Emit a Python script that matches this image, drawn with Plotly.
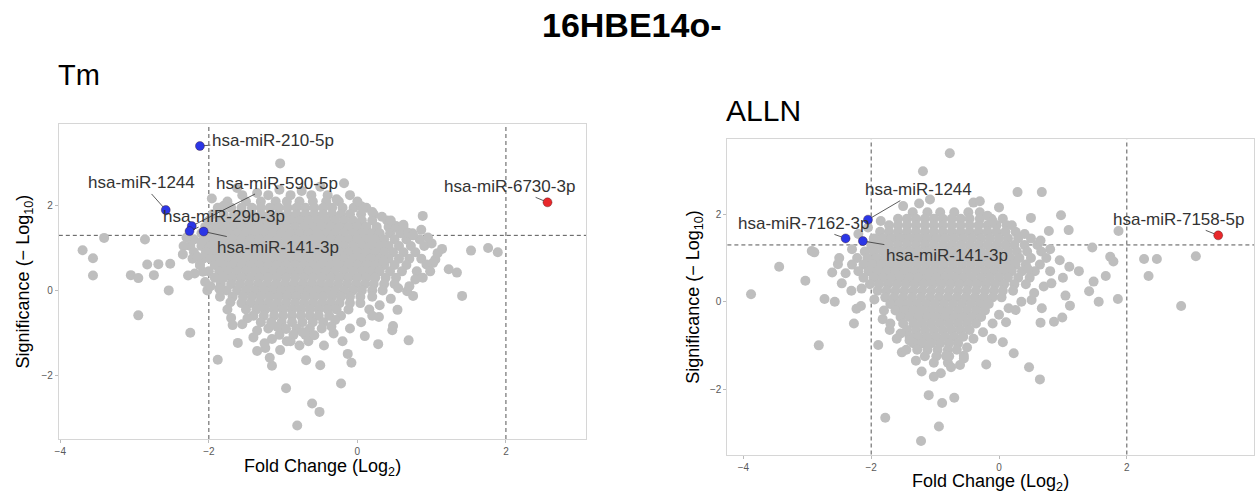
import plotly.graph_objects as go

# ---------------- Tm panel data ----------------
TM_OUT_X = [-1.04, -0.18, -0.10, -1.96, 0.05, 0.33, 0.88, 0.51, 0.86, -3.41, -2.86, -3.70, -3.56, -3.56, -3.05,
            -2.95, -2.83, -2.68, -2.74, -2.52, -2.54, -2.95, -2.25, -1.88, -0.96, -0.81, -0.61, -0.51, -0.22,
            -1.15, -1.18, -0.69, -0.50, -0.08, -0.13, -1.35, -1.24, -1.61, -1.40, -1.04, 0.69, 0.28, 0.10, 0.47,
            0.48, 0.54, 0.29, 0.16, 1.41, 1.34, 1.23, 1.53, 1.76, 1.89, 1.14, 1.05, 1.02, 0.93, 0.75, 0.67, 0.78,
            0.52, 0.68, 1.00, -0.32, -0.30, -0.58, -0.74, -0.96, -1.08, -1.68, -1.48, -1.70, -1.71, -1.86, -2.05,
            -2.02, -2.08, -2.28, -2.34, -2.15, -2.19]
TM_OUT_Y = [3.00, 2.53, 2.25, 2.17, 1.99, 1.74, 1.76, 1.48, 1.43, 1.24, 1.20, 0.95, 0.76, 0.35, 0.36,
            0.29, 0.61, 0.62, 0.36, 0.63, 0.00, -0.59, -1.00, -1.64, -2.31, -3.19, -2.67, -2.87, -2.20,
            -1.78, -1.59, -1.65, -1.77, -1.71, -1.50, -1.43, -1.36, -1.24, -1.11, -1.41, -1.18, -1.27, -1.08, -0.94,
            -0.84, -0.46, -0.63, -0.45, -0.13, 0.42, 0.50, 0.94, 1.00, 0.90, 0.98, 0.73, 0.65, 0.61, -0.13, -0.02, 0.26,
            1.52, 1.36, 1.11, -1.02, -0.70, -1.06, -0.98, -0.91, -0.86, -0.82, -0.66, -0.65, -0.28, 0.04, 0.20,
            0.00, 0.44, 0.35, 1.05, 0.79, 0.40]

TM_EDGE_X = [-1.62, -1.35, -1.05, -0.75, -0.50, -0.28, 0.00, 0.20, 0.45, 0.62, 0.75, 0.95, 1.08, 0.98, 0.88,
             0.70, 0.55, 0.45, 0.30, 0.20, 0.05, -0.10, -0.20, -0.45, -0.78, -1.15, -1.35, -1.55, -1.75, -1.85,
             -1.98, -2.12, -2.35, -2.30, -2.10, -1.80, -0.35, 0.35, -1.25, -0.95]
TM_EDGE_Y = [2.42, 2.30, 2.38, 2.35, 2.45, 2.15, 2.10, 1.85, 1.65, 1.55, 1.30, 1.25, 0.88, 0.45, 0.30,
             0.10, 0.05, -0.20, -0.35, -0.60, -0.75, -0.90, -1.20, -1.30, -1.30, -1.15, -0.95, -0.80, -0.45, -0.15,
             0.10, 0.60, 0.85, 1.25, 1.15, 2.00, -0.85, 0.70, -1.25, -1.20]

TM_ROW_Y = [2.25, 2.1, 1.95, 1.8, 1.65, 1.5, 1.35, 1.2, 1.05, 0.9, 0.75, 0.6, 0.45, 0.3, 0.15, 0.0,
            -0.15, -0.3, -0.45, -0.6, -0.75, -0.9, -1.05, -1.2]
TM_ROW_X = [
    [-1.55, -1.2, -0.9, -0.62, -0.4],
    [-1.75, -1.5, -1.3, -1.1, -0.95, -0.78, -0.6, -0.42, -0.25],
    [-1.88, -1.7, -1.56, -1.42, -1.3, -1.18, -1.06, -0.94, -0.82, -0.7, -0.58, -0.46, -0.34, -0.2, -0.05, 0.12],
    [-1.95, -1.8, -1.66, -1.54, -1.42, -1.3, -1.18, -1.06, -0.94, -0.82, -0.7, -0.58, -0.46, -0.34, -0.22, -0.1, 0.05, 0.22],
    [-2.0, -1.86, -1.74, -1.62, -1.5, -1.38, -1.26, -1.14, -1.02, -0.9, -0.78, -0.66, -0.54, -0.42, -0.3, -0.18, -0.06, 0.06, 0.2, 0.4],
    [-2.05, -1.92, -1.8, -1.68, -1.56, -1.44, -1.32, -1.2, -1.08, -0.96, -0.84, -0.72, -0.6, -0.48, -0.36, -0.24, -0.12, 0.0, 0.12, 0.26, 0.42, 0.62],
    [-2.1, -1.98, -1.86, -1.74, -1.62, -1.5, -1.38, -1.26, -1.14, -1.02, -0.9, -0.78, -0.66, -0.54, -0.42, -0.3, -0.18, -0.06, 0.06, 0.18, 0.3, 0.44, 0.58, 0.74],
    [-2.2, -2.04, -1.92, -1.8, -1.68, -1.56, -1.44, -1.32, -1.2, -1.08, -0.96, -0.84, -0.72, -0.6, -0.48, -0.36, -0.24, -0.12, 0.0, 0.12, 0.24, 0.36, 0.5, 0.66, 0.84],
    [-2.25, -2.1, -1.98, -1.86, -1.74, -1.62, -1.5, -1.38, -1.26, -1.14, -1.02, -0.9, -0.78, -0.66, -0.54, -0.42, -0.3, -0.18, -0.06, 0.06, 0.18, 0.3, 0.42, 0.56, 0.72, 0.9],
    [-2.2, -2.04, -1.92, -1.8, -1.68, -1.56, -1.44, -1.32, -1.2, -1.08, -0.96, -0.84, -0.72, -0.6, -0.48, -0.36, -0.24, -0.12, 0.0, 0.12, 0.24, 0.36, 0.48, 0.62, 0.78],
    [-2.22, -2.08, -1.98, -1.86, -1.74, -1.62, -1.5, -1.38, -1.26, -1.14, -1.02, -0.9, -0.78, -0.66, -0.54, -0.42, -0.3, -0.18, -0.06, 0.06, 0.18, 0.3, 0.42, 0.56, 0.7, 0.86],
    [-2.12, -1.92, -1.8, -1.68, -1.56, -1.44, -1.32, -1.2, -1.08, -0.96, -0.84, -0.72, -0.6, -0.48, -0.36, -0.24, -0.12, 0.0, 0.12, 0.24, 0.36, 0.5, 0.66],
    [-2.0, -1.86, -1.74, -1.62, -1.5, -1.38, -1.26, -1.14, -1.02, -0.9, -0.78, -0.66, -0.54, -0.42, -0.3, -0.18, -0.06, 0.06, 0.18, 0.3, 0.44, 0.6, 0.8],
    [-1.92, -1.8, -1.68, -1.56, -1.44, -1.32, -1.2, -1.08, -0.96, -0.84, -0.72, -0.6, -0.48, -0.36, -0.24, -0.12, 0.0, 0.12, 0.24, 0.38, 0.52],
    [-1.84, -1.7, -1.58, -1.46, -1.34, -1.22, -1.1, -0.98, -0.86, -0.74, -0.62, -0.5, -0.38, -0.26, -0.14, -0.02, 0.1, 0.22, 0.36, 0.5],
    [-1.76, -1.62, -1.5, -1.38, -1.26, -1.14, -1.02, -0.9, -0.78, -0.66, -0.54, -0.42, -0.3, -0.18, -0.06, 0.06, 0.2, 0.34],
    [-1.68, -1.54, -1.42, -1.3, -1.18, -1.06, -0.94, -0.82, -0.7, -0.58, -0.46, -0.34, -0.22, -0.1, 0.04, 0.2],
    [-1.56, -1.44, -1.32, -1.2, -1.08, -0.96, -0.84, -0.72, -0.6, -0.48, -0.36, -0.24, -0.1, 0.04],
    [-1.5, -1.36, -1.24, -1.12, -1.0, -0.88, -0.76, -0.64, -0.52, -0.4, -0.28, -0.12],
    [-1.4, -1.26, -1.12, -1.0, -0.88, -0.76, -0.64, -0.52, -0.38, -0.22],
    [-1.3, -1.16, -1.02, -0.88, -0.74, -0.6, -0.46],
    [-1.2, -1.0, -0.82, -0.64, -0.48],
    [-1.05, -0.86, -0.7],
    [-0.9, -0.66],
]

TM_DOWN_NAMES = ["hsa-miR-210-5p", "hsa-miR-1244", "hsa-miR-590-5p", "hsa-miR-29b-3p", "hsa-miR-141-3p"]
TM_DOWN_X = [-2.12, -2.58, -2.23, -2.26, -2.07]
TM_DOWN_Y = [3.41, 1.90, 1.52, 1.40, 1.39]
TM_UP_NAMES = ["hsa-miR-6730-3p"]
TM_UP_X = [2.56]
TM_UP_Y = [2.08]

# ---------------- ALLN panel data ----------------
AL_OUT_X = [-0.77, -1.19, 0.29, 0.67, -0.40, -1.08, -1.50, 0.00, -0.18, 0.50, 0.97, 1.09, 1.87, 0.78, 1.46,
            1.74, 1.79, 2.27, 2.47, 3.08, 2.34, 2.85, 1.86, 1.56, 1.41, 1.67, 1.48, -2.93, -2.89, -3.44, -3.03,
            -3.88, -2.73, -2.57, -2.61, -2.52, -2.46, -2.31, -2.82, -2.27, -2.23, -2.16, -1.89, -1.82, -1.78,
            -1.22, -0.94, -1.10, -0.89, -0.70, -0.91, -1.02, -1.21, -0.20, 0.47, 0.64, 0.23, -0.11, 0.06, 0.11,
            0.26, 0.65, 0.86, 0.99, 0.67, 1.11, 0.51, 1.04, 0.82, -0.55, -0.61, -0.83, -1.52, -1.40, -1.54, -1.71]
AL_OUT_Y = [3.40, 2.99, 2.51, 2.51, 2.27, 2.34, 2.19, 2.16, 1.97, 1.92, 1.98, 1.64, 1.62, 1.62, 1.24,
            1.03, 0.92, 0.98, 0.98, 1.04, 0.59, -0.10, 0.06, 0.00, 0.24, 0.59, 0.46, 1.16, 1.13, 0.80, 0.48,
            0.17, 0.06, 0.00, 0.67, 0.86, 0.42, 0.25, -1.00, -0.50, -0.16, -0.10, -0.99, -0.40, -2.66,
            -3.19, -2.86, -2.14, -2.32, -2.20, -1.64, -1.72, -1.60, -1.44, -1.50, -1.78, -1.18, -0.85, -0.93, -0.47,
            -0.19, -0.48, -0.46, -0.36, -0.15, -0.09, 0.04, 0.14, 0.42, -1.24, -1.45, -1.24, -1.16, -0.89, -0.73, -0.65]

AL_EDGE_X = [-1.85, -0.10, 0.20, 0.40, 0.65, 0.80, 0.95, 1.10, 1.25, 1.00, 0.70, 0.55, 0.35, 0.15, 0.00,
             -0.10, -0.25, -0.40, -0.50, -0.55, -0.75, -1.30, -1.45, -1.60, -1.70, -1.80, -1.95, -2.15, -2.40,
             -2.50, -2.30, -2.20, -2.05, -1.25, -0.30, 0.45]
AL_EDGE_Y = [1.85, 1.85, 1.75, 1.55, 1.40, 1.20, 0.95, 0.80, 0.70, 0.55, 0.35, 0.20, 0.00, -0.15, -0.30,
             -0.50, -0.70, -0.85, -1.05, -1.30, -1.50, -1.35, -1.10, -0.85, -0.50, -0.20, 0.05, 0.30, 0.65,
             1.00, 1.20, 1.55, 1.70, 2.25, 2.30, 0.75]

AL_ROW_Y = [2.05, 1.9, 1.75, 1.6, 1.45, 1.3, 1.15, 1.0, 0.85, 0.7, 0.55, 0.4, 0.25, 0.1, -0.05,
            -0.2, -0.35, -0.5, -0.65, -0.8, -0.95, -1.1, -1.25, -1.4]
AL_ROW_X = [
    [-1.35, -1.12, -0.92, -0.7, -0.48, -0.3],
    [-1.58, -1.44, -1.3, -1.16, -1.02, -0.88, -0.74, -0.6, -0.46, -0.3, -0.12, 0.06],
    [-1.72, -1.58, -1.44, -1.3, -1.16, -1.02, -0.88, -0.74, -0.6, -0.46, -0.32, -0.18, -0.04, 0.12],
    [-1.86, -1.72, -1.58, -1.44, -1.3, -1.16, -1.02, -0.88, -0.74, -0.6, -0.46, -0.32, -0.18, -0.04, 0.1, 0.26],
    [-1.96, -1.82, -1.68, -1.54, -1.4, -1.26, -1.12, -0.98, -0.84, -0.7, -0.56, -0.42, -0.28, -0.14, 0.0, 0.14, 0.3, 0.5],
    [-2.0, -1.86, -1.72, -1.58, -1.44, -1.3, -1.16, -1.02, -0.88, -0.74, -0.6, -0.46, -0.32, -0.18, -0.04, 0.1, 0.24, 0.4, 0.6],
    [-2.1, -1.96, -1.82, -1.68, -1.54, -1.4, -1.26, -1.12, -0.98, -0.84, -0.7, -0.56, -0.42, -0.28, -0.14, 0.0, 0.14, 0.28, 0.44, 0.66],
    [-2.22, -2.06, -1.92, -1.78, -1.64, -1.5, -1.36, -1.22, -1.08, -0.94, -0.8, -0.66, -0.52, -0.38, -0.24, -0.1, 0.04, 0.18, 0.32, 0.5, 0.74],
    [-2.3, -2.12, -1.98, -1.84, -1.7, -1.56, -1.42, -1.28, -1.14, -1.0, -0.86, -0.72, -0.58, -0.44, -0.3, -0.16, -0.02, 0.12, 0.26, 0.42, 0.64],
    [-2.2, -2.04, -1.9, -1.76, -1.62, -1.48, -1.34, -1.2, -1.06, -0.92, -0.78, -0.64, -0.5, -0.36, -0.22, -0.08, 0.06, 0.2, 0.36, 0.56, 0.8],
    [-2.12, -1.96, -1.82, -1.68, -1.54, -1.4, -1.26, -1.12, -0.98, -0.84, -0.7, -0.56, -0.42, -0.28, -0.14, 0.0, 0.14, 0.3, 0.48],
    [-2.02, -1.88, -1.74, -1.6, -1.46, -1.32, -1.18, -1.04, -0.9, -0.76, -0.62, -0.48, -0.34, -0.2, -0.06, 0.08, 0.24, 0.42],
    [-1.9, -1.76, -1.62, -1.48, -1.34, -1.2, -1.06, -0.92, -0.78, -0.64, -0.5, -0.36, -0.22, -0.08, 0.06, 0.22],
    [-1.78, -1.64, -1.5, -1.36, -1.22, -1.08, -0.94, -0.8, -0.66, -0.52, -0.38, -0.24, -0.1, 0.04],
    [-1.7, -1.56, -1.42, -1.28, -1.14, -1.0, -0.86, -0.72, -0.58, -0.44, -0.3, -0.16],
    [-1.62, -1.48, -1.34, -1.2, -1.06, -0.92, -0.78, -0.64, -0.5, -0.36, -0.22],
    [-1.54, -1.4, -1.26, -1.12, -0.98, -0.84, -0.7, -0.56, -0.42, -0.28],
    [-1.5, -1.34, -1.2, -1.06, -0.92, -0.78, -0.64, -0.5, -0.36],
    [-1.44, -1.3, -1.16, -1.02, -0.88, -0.74, -0.6, -0.46],
    [-1.4, -1.26, -1.12, -0.98, -0.84, -0.7, -0.56],
    [-1.34, -1.2, -1.06, -0.92, -0.78, -0.64],
    [-1.28, -1.12, -0.96, -0.8, -0.66],
    [-1.16, -0.98, -0.78],
    [-1.02, -0.8],
]

AL_DOWN_NAMES = ["hsa-miR-1244", "hsa-miR-7162-3p", "hsa-miR-141-3p"]
AL_DOWN_X = [-2.05, -2.40, -2.13]
AL_DOWN_Y = [1.88, 1.45, 1.39]
AL_UP_NAMES = ["hsa-miR-7158-5p"]
AL_UP_X = [3.43]
AL_UP_Y = [1.52]

FC_CUT = [-2, 2]
P_CUT = 1.3

# label offsets (pixels, text centre relative to point) -- layout only
TM_LABEL_OFF = {"hsa-miR-210-5p": (73, -6), "hsa-miR-1244": (-24, -27), "hsa-miR-590-5p": (85, -43),
                "hsa-miR-29b-3p": (34, -15), "hsa-miR-141-3p": (74, 16), "hsa-miR-6730-3p": (-38, -16)}
AL_LABEL_OFF = {"hsa-miR-1244": (51, -30), "hsa-miR-7162-3p": (-42, -15), "hsa-miR-141-3p": (84, 14),
                "hsa-miR-7158-5p": (-40, -16)}

GREY = "rgb(190,190,190)"
BLUE = "#2B36E6"
RED = "#E8282B"
FONT = "Liberation Sans, Arial, sans-serif"


def flatten(row_y, row_x):
    xs, ys = [], []
    for y, row in zip(row_y, row_x):
        for x in row:
            xs.append(x)
            ys.append(y)
    return xs, ys


fig = go.Figure()

panels = [
    dict(xa="x", ya="y", out=(TM_OUT_X + TM_EDGE_X, TM_OUT_Y + TM_EDGE_Y), core=flatten(TM_ROW_Y, TM_ROW_X),
         down=(TM_DOWN_NAMES, TM_DOWN_X, TM_DOWN_Y), up=(TM_UP_NAMES, TM_UP_X, TM_UP_Y), off=TM_LABEL_OFF),
    dict(xa="x2", ya="y2", out=(AL_OUT_X + AL_EDGE_X, AL_OUT_Y + AL_EDGE_Y), core=flatten(AL_ROW_Y, AL_ROW_X),
         down=(AL_DOWN_NAMES, AL_DOWN_X, AL_DOWN_Y), up=(AL_UP_NAMES, AL_UP_X, AL_UP_Y), off=AL_LABEL_OFF),
]

annotations = []
shapes = []
for p in panels:
    gx = list(p["core"][0]) + list(p["out"][0])
    gy = list(p["core"][1]) + list(p["out"][1])
    fig.add_trace(go.Scatter(x=gx, y=gy, mode="markers", xaxis=p["xa"], yaxis=p["ya"],
                             marker=dict(size=10, color=GREY, line=dict(width=0)), showlegend=False,
                             hoverinfo="skip"))
    for (names, xs, ys), col in ((p["down"], BLUE), (p["up"], RED)):
        fig.add_trace(go.Scatter(x=xs, y=ys, mode="markers", xaxis=p["xa"], yaxis=p["ya"], text=names,
                                 marker=dict(size=9, color=col, line=dict(width=0.6, color="rgba(60,20,20,0.6)")),
                                 showlegend=False))
        for n, x, y in zip(names, xs, ys):
            ax, ay = p["off"][n]
            annotations.append(dict(x=x, y=y, xref=p["xa"], yref=p["ya"], text=n, showarrow=True,
                                    ax=ax, ay=ay, arrowhead=0, arrowwidth=0.8, arrowcolor="#333333",
                                    standoff=4, font=dict(family=FONT, size=17, color="#333333")))
    for c in FC_CUT:
        shapes.append(dict(type="line", xref=p["xa"], yref=p["ya"] + " domain", x0=c, x1=c, y0=0, y1=1,
                           line=dict(color="#555555", width=1, dash="4px,3px"), layer="below"))
    shapes.append(dict(type="line", xref=p["xa"] + " domain", yref=p["ya"], x0=0, x1=1, y0=P_CUT, y1=P_CUT,
                       line=dict(color="#555555", width=1, dash="4px,3px"), layer="below"))

axis_common = dict(showgrid=False, zeroline=False, showline=True, mirror=True, linecolor="#D6D6D6",
                   linewidth=1, ticks="outside", ticklen=3, tickcolor="#BBBBBB",
                   tickfont=dict(family=FONT, size=10, color="#5A5A5A"))

fig.update_layout(
    width=1255, height=499, margin=dict(l=0, r=0, t=0, b=0),
    paper_bgcolor="white", plot_bgcolor="white",
    xaxis=dict(axis_common, domain=[55 / 1255, 584 / 1255], range=[-4.02, 3.08], tickvals=[-4, -2, 0, 2],
               anchor="y"),
    yaxis=dict(axis_common, domain=[1 - 439 / 499, 1 - 124 / 499], range=[-3.51, 3.93], tickvals=[-2, 0, 2],
               anchor="x"),
    xaxis2=dict(axis_common, domain=[725.7 / 1255, 1254 / 1255], range=[-4.25, 3.99], tickvals=[-4, -2, 0, 2],
                anchor="y2"),
    yaxis2=dict(axis_common, domain=[1 - 454.5 / 499, 1 - 139.3 / 499], range=[-3.50, 3.72],
                tickvals=[-2, 0, 2], anchor="x2"),
    shapes=shapes,
)

title_font = dict(family=FONT, color="black")
annotations += [
    dict(text="<b>16HBE14o-</b>", x=630 / 1255, y=1 - 25 / 499, xref="paper", yref="paper", showarrow=False,
         xanchor="center", yanchor="middle", font=dict(title_font, size=34)),
    dict(text="Tm", x=52 / 1255, y=1 - 75 / 499, xref="paper", yref="paper", showarrow=False,
         xanchor="left", yanchor="middle", font=dict(title_font, size=29)),
    dict(text="ALLN", x=722 / 1255, y=1 - 110 / 499, xref="paper", yref="paper", showarrow=False,
         xanchor="left", yanchor="middle", font=dict(title_font, size=30)),
    dict(text="Fold Change (Log<sub>2</sub>)", x=319.5 / 1255, y=1 - 467 / 499, xref="paper", yref="paper",
         showarrow=False, xanchor="center", yanchor="middle", font=dict(title_font, size=18)),
    dict(text="Fold Change (Log<sub>2</sub>)", x=990 / 1255, y=1 - 482 / 499, xref="paper", yref="paper",
         showarrow=False, xanchor="center", yanchor="middle", font=dict(title_font, size=18)),
    dict(text="Significance (\u2212 Log<sub>10</sub>)", x=21 / 1255, y=1 - 281.5 / 499, xref="paper",
         yref="paper", showarrow=False, xanchor="center", yanchor="middle", textangle=-90,
         font=dict(title_font, size=18)),
    dict(text="Significance (\u2212 Log<sub>10</sub>)", x=692 / 1255, y=1 - 297 / 499, xref="paper",
         yref="paper", showarrow=False, xanchor="center", yanchor="middle", textangle=-90,
         font=dict(title_font, size=18)),
]
fig.update_layout(annotations=annotations)

fig.write_html("out.html", config={"displayModeBar": False},
               post_script="document.body.style.margin='0';document.body.style.overflow='hidden';")
